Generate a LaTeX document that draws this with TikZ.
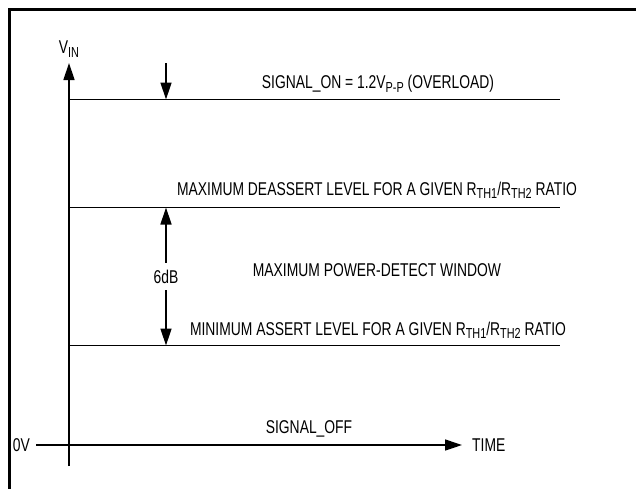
\documentclass[tikz,border=0pt]{standalone}
\usepackage{fontspec}
\setmainfont[FakeStretch=0.75]{Liberation Sans}
\usetikzlibrary{arrows.meta}
\usetikzlibrary{positioning}
\tikzstyle{axis}  = [line width=1.4pt,-{Triangle[length=17pt,width=11pt]}]
\tikzstyle{level} = [line width=1.4pt]
\tikzstyle{lbl}   = [inner sep=0pt, font=\fontsize{18.5}{20}\selectfont]
\newcommand{\lowsub}[1]{\raisebox{-0.35ex}{\fontsize{14.5}{15}\selectfont #1}}

\begin{document}
\begin{tikzpicture}[x=1pt,y=-1pt]
  \useasboundingbox (0,0) rectangle (636,488);
  % Frame (top and left only)
  \draw[line width=2.4pt] (9.5,495) -- (9.5,9.5) -- (645,9.5);
  % Axes
  \coordinate (yfoot) at (69,466);
  \coordinate (ytop) at (69,63);
  \coordinate (xstart) at (36,445);
  \coordinate (xend) at (462,445);
  \draw[axis] (yfoot) -- (ytop);
  \draw[axis] (xstart) -- (xend);
  \node[lbl] (vin) at (69,49) {V\lowsub{IN}};
  \node[lbl, left=6pt of xstart] (zero) {0V};
  \node[lbl, right=10pt of xend] (time) {TIME};
  \node[lbl] (off) at (309,429) {SIGNAL\_OFF};
  % Levels
  \coordinate (onL) at (69,99.5);
  \coordinate (onR) at (560,99.5);
  \coordinate (deL) at (69,207.5);
  \coordinate (deR) at (560,207.5);
  \coordinate (asL) at (69,345.5);
  \coordinate (asR) at (560,345.5);
  \draw[level] (onL) -- (onR);
  \draw[level] (deL) -- (deR);
  \draw[level] (asL) -- (asR);
  \node[lbl] (on) at (378,84) {SIGNAL\_ON = 1.2V\lowsub{P-P} (OVERLOAD)};
  \node[lbl] (deassert) at (377,190.5) {MAXIMUM DEASSERT LEVEL FOR A GIVEN R\lowsub{TH1}/R\lowsub{TH2} RATIO};
  \node[lbl] (window) at (377,270) {MAXIMUM POWER-DETECT WINDOW};
  \node[lbl] (assert) at (378,330) {MINIMUM ASSERT LEVEL FOR A GIVEN R\lowsub{TH1}/R\lowsub{TH2} RATIO};
  % Marker arrows
  \coordinate (ontop) at (166,63);
  \coordinate (onhit) at (166,99.5);
  \coordinate (detop) at (166,207.5);
  \coordinate (asbot) at (166,345.5);
  \draw[axis] (ontop) -- (onhit);
  \draw[axis, {Triangle[length=17pt,width=11pt]}-{Triangle[length=17pt,width=11pt]}] (detop) -- (asbot)
    node[lbl, midway, fill=white, inner xsep=2pt, inner ysep=7pt] (db) {6dB};
\end{tikzpicture}
\end{document}
